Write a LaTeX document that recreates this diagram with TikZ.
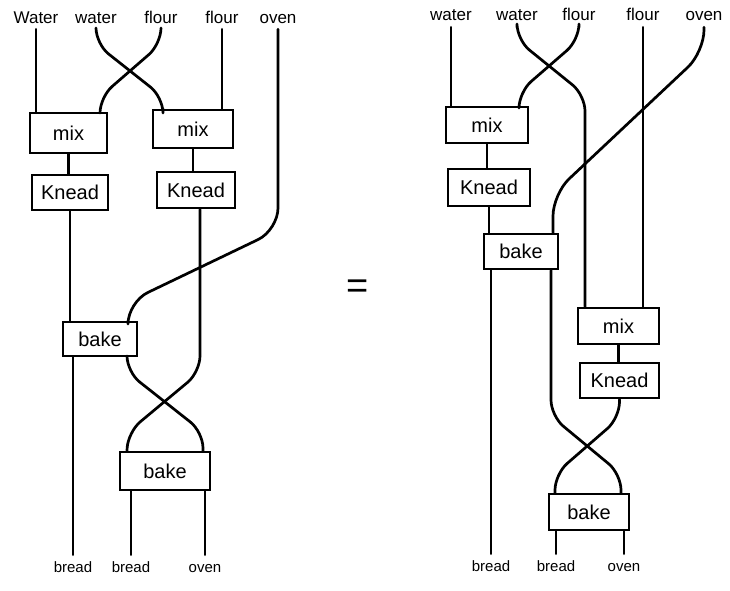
\documentclass[tikz,border=0pt]{standalone}
\usepackage{fontspec}
\setmainfont{Liberation Sans}
\begin{document}
\begin{tikzpicture}[x=1pt,y=1pt,
  wire/.style={line width=2.7pt, line cap=round, line join=round, rounded corners=16pt},
  box/.style={draw, line width=2.7pt, inner sep=0pt, font=\fontsize{20}{20}\selectfont},
  toplbl/.style={inner sep=0pt, anchor=base, text height=12pt, text depth=0pt, font=\fontsize{17}{17}\selectfont},
  botlbl/.style={inner sep=0pt, anchor=base, text height=10pt, text depth=0pt, font=\fontsize{15}{15}\selectfont},
]
\useasboundingbox[fill=white] (0,0) rectangle (730,-590);

% ---------------- left diagram ----------------
\node[toplbl] (tA1) at (36,-23) {Water};
\node[toplbl] (tA2) at (96,-23) {water};
\node[toplbl] (tA3) at (161,-23) {flour};
\node[toplbl] (tA4) at (222,-23) {flour};
\node[toplbl] (tA5) at (278,-23) {oven};

\node[box, minimum width=77pt, minimum height=40pt] (mixA) at (68.5,-133) {mix};
\node[box, minimum width=80pt, minimum height=38pt] (mixB) at (193,-129) {mix};
\node[box, minimum width=76pt, minimum height=35pt] (kneadA) at (70,-192.5) {Knead};
\node[box, minimum width=78pt, minimum height=36pt] (kneadB) at (196,-190) {Knead};
\node[box, minimum width=74pt, minimum height=34pt] (bakeA) at (100,-339) {bake};
\node[box, minimum width=90pt, minimum height=38pt] (bakeB) at (165,-471) {bake};

\node[botlbl] (bA1) at (73,-572) {bread};
\node[botlbl] (bA2) at (131,-572) {bread};
\node[botlbl] (bA3) at (205,-572) {oven};

\draw[wire] ([yshift=-6pt]tA1.south) -- (tA1.south |- mixA.north);
\draw[wire] ([yshift=-6pt]tA2.south) -- (96,-44) -- (163,-97) -- ([xshift=-30pt]mixB.north);
\draw[wire] ([yshift=-6pt]tA3.south) -- (161,-44) -- (100,-97) -- ([xshift=31.5pt]mixA.north);
\draw[wire] ([yshift=-6pt]tA4.south) -- (tA4.south |- mixB.north);
\draw[wire, rounded corners=22pt] ([yshift=-6pt]tA5.south) -- (278,-230) -- (128,-302) -- ([xshift=28pt]bakeA.north);

\draw[wire] (mixA.south) -- (mixA.south |- kneadA.north);
\draw[wire] (mixB.south) -- (mixB.south |- kneadB.north);
\draw[wire] (kneadA.south) -- (kneadA.south |- bakeA.north);
\draw[wire] ([xshift=4pt]kneadB.south) -- (200,-372) -- (128,-432) -- ([xshift=-38pt]bakeB.north);
\draw[wire] ([xshift=27pt]bakeA.south) -- (127,-372) -- (203,-432) -- ([xshift=38pt]bakeB.north);

\draw[wire] (bA1.north |- bakeA.south) -- ([yshift=7pt]bA1.north);
\draw[wire] (bA2.north |- bakeB.south) -- ([yshift=7pt]bA2.north);
\draw[wire] (bA3.north |- bakeB.south) -- ([yshift=7pt]bA3.north);

% ---------------- equals ----------------
\node[inner sep=0pt, font=\fontsize{38}{38}\selectfont] (eq) at (358,-289) {=};

% ---------------- right diagram ----------------
\node[toplbl] (tB1) at (451,-20) {water};
\node[toplbl] (tB2) at (517,-20) {water};
\node[toplbl] (tB3) at (579,-20) {flour};
\node[toplbl] (tB4) at (643,-20) {flour};
\node[toplbl] (tB5) at (704,-20) {oven};

\node[box, minimum width=82pt, minimum height=36pt] (mixC) at (487,-125) {mix};
\node[box, minimum width=82pt, minimum height=37pt] (kneadC) at (489,-187.5) {Knead};
\node[box, minimum width=74pt, minimum height=35pt] (bakeC) at (521,-251.5) {bake};
\node[box, minimum width=81pt, minimum height=36pt] (mixD) at (618.5,-326) {mix};
\node[box, minimum width=79pt, minimum height=35pt] (kneadD) at (619.5,-380.5) {Knead};
\node[box, minimum width=80pt, minimum height=36pt] (bakeD) at (589,-512) {bake};

\node[botlbl] (bB1) at (491,-571) {bread};
\node[botlbl] (bB2) at (556,-571) {bread};
\node[botlbl] (bB3) at (624,-571) {oven};

\draw[wire] ([yshift=-7pt]tB1.south) -- (tB1.south |- mixC.north);
\draw[wire] ([yshift=-7pt]tB2.south) -- (517,-40) -- (585,-95) -- ([xshift=-33.5pt]mixD.north);
\draw[wire] ([yshift=-7pt]tB3.south) -- (579,-40) -- (519,-92) -- ([xshift=32pt]mixC.north);
\draw[wire] ([yshift=-7pt]tB4.south) -- (tB4.south |- mixD.north);
\draw[wire, rounded corners=22pt] ([yshift=-7pt]tB5.south) -- (704,-52) -- (553,-194) -- ([xshift=32pt]bakeC.north);

\draw[wire] (mixC.south) -- (mixC.south |- kneadC.north);
\draw[wire] (kneadC.south) -- (kneadC.south |- bakeC.north);
\draw[wire] (mixD.south) -- (mixD.south |- kneadD.north);
\draw[wire] ([xshift=30pt]bakeC.south) -- (551,-416) -- (621,-474) -- ([xshift=32pt]bakeD.north);
\draw[wire] (kneadD.south) -- (619.5,-418) -- (555,-474) -- ([xshift=-34pt]bakeD.north);

\draw[wire] (bB1.north |- bakeC.south) -- ([yshift=7pt]bB1.north);
\draw[wire] (bB2.north |- bakeD.south) -- ([yshift=7pt]bB2.north);
\draw[wire] (bB3.north |- bakeD.south) -- ([yshift=7pt]bB3.north);
\end{tikzpicture}
\end{document}
